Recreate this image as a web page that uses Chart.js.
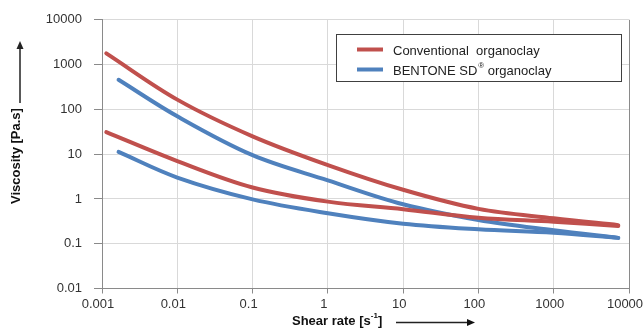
<!DOCTYPE html>
<html>
<head>
<meta charset="utf-8">
<script src="https://cdn.jsdelivr.net/npm/chart.js@4.4.0/dist/chart.umd.min.js"></script>
<style>
  html, body { margin: 0; padding: 0; background: #fff; }
  #wrap { width: 643px; height: 332px; position: relative; }
</style>
</head>
<body>
<div id="wrap"><canvas id="myChart"></canvas></div>
<script>
'use strict';

// shear rate values (s-1)
var shearConv = [0.00114, 0.01, 0.1, 1, 10, 100, 1000, 7200];
var shearBent = [0.00166, 0.01, 0.1, 1, 10, 100, 1000, 7200];

// viscosity (Pa.s)
var convHigh = [1780, 165, 25, 5.7, 1.6, 0.6, 0.37, 0.26];
var convLow = [31, 7.0, 1.8, 0.87, 0.59, 0.38, 0.31, 0.25];
var bentHigh = [458, 70, 9.5, 2.6, 0.76, 0.34, 0.2, 0.135];
var bentLow = [11.2, 3.0, 0.98, 0.48, 0.28, 0.21, 0.175, 0.135];

var xTicks = [0.001, 0.01, 0.1, 1, 10, 100, 1000, 10000];
var yTicks = [0.01, 0.1, 1, 10, 100, 1000, 10000];

var legendLabels = ['Conventional  organoclay', 'BENTONE SD', '\u00ae', ' organoclay'];

var RED = '#C0504D';
var BLUE = '#4F81BD';
var FONT = '"Liberation Sans", Arial, sans-serif';

function toPoints(xs, ys) {
  return xs.map(function(x, i) {
    return { x: x, y: ys[i] };
  });
}

function line(label, xs, ys, color) {
  return {
    label: label,
    data: toPoints(xs, ys),
    borderColor: color,
    backgroundColor: color,
    borderWidth: 4,
    borderCapStyle: 'round',
    pointRadius: 0,
    tension: 0.35,
    fill: false
  };
}

//legend box and axis titles with arrows
var extras = {
  id: 'extras',
  afterDraw: function(chart) {
    var ctx = chart.ctx;
    ctx.save();

    // legend
    ctx.fillStyle = '#fff';
    ctx.fillRect(336, 34, 286, 47);
    ctx.strokeStyle = '#404040';
    ctx.lineWidth = 1;
    ctx.strokeRect(336.5, 34.5, 285, 47);

    ctx.lineWidth = 4;
    ctx.strokeStyle = RED;
    ctx.beginPath(); ctx.moveTo(357, 49.5); ctx.lineTo(383, 49.5); ctx.stroke();
    ctx.strokeStyle = BLUE;
    ctx.beginPath(); ctx.moveTo(357, 69.5); ctx.lineTo(383, 69.5); ctx.stroke();

    ctx.fillStyle = '#222';
    ctx.textBaseline = 'middle';
    ctx.textAlign = 'left';
    ctx.font = '13px ' + FONT;
    ctx.fillText(legendLabels[0], 393, 51);
    var x = 393;
    ctx.fillText(legendLabels[1], x, 71);
    x += ctx.measureText(legendLabels[1]).width + 1;
    ctx.font = '8px ' + FONT;
    ctx.fillText(legendLabels[2], x, 66);
    x += ctx.measureText(legendLabels[2]).width;
    ctx.font = '13px ' + FONT;
    ctx.fillText(legendLabels[3], x, 71);

    // y title
    ctx.fillStyle = '#111';
    ctx.font = 'bold 13px ' + FONT;
    ctx.save();
    ctx.translate(16, 156);
    ctx.rotate(-Math.PI / 2);
    ctx.textAlign = 'center';
    ctx.fillText('Viscosity [Pa.s]', 0, 0);
    ctx.restore();

    ctx.strokeStyle = '#222';
    ctx.fillStyle = '#222';
    ctx.lineWidth = 1.5;
    ctx.beginPath(); ctx.moveTo(20, 103); ctx.lineTo(20, 47); ctx.stroke();
    ctx.beginPath(); ctx.moveTo(20, 41); ctx.lineTo(16.5, 49); ctx.lineTo(23.5, 49); ctx.closePath(); ctx.fill();

    // x title
    ctx.fillStyle = '#111';
    ctx.font = 'bold 13px ' + FONT;
    ctx.textAlign = 'left';
    var tx = 292;
    ctx.fillText('Shear rate [s', tx, 321);
    tx += ctx.measureText('Shear rate [s').width;
    ctx.font = 'bold 8px ' + FONT;
    ctx.fillText('-1', tx, 316);
    tx += ctx.measureText('-1').width;
    ctx.font = 'bold 13px ' + FONT;
    ctx.fillText(']', tx, 321);

    ctx.beginPath(); ctx.moveTo(396, 322.5); ctx.lineTo(468, 322.5); ctx.stroke();
    ctx.beginPath(); ctx.moveTo(475, 322.5); ctx.lineTo(467, 319); ctx.lineTo(467, 326); ctx.closePath(); ctx.fill();

    ctx.restore();
  }
};

var ctx = document.getElementById('myChart').getContext('2d');

var chart = new Chart(ctx, {
  type: 'line',
  data: {
    datasets: [
      line('Conventional organoclay', shearConv, convHigh, RED),
      line('Conventional organoclay (2)', shearConv, convLow, RED),
      line('BENTONE SD organoclay', shearBent, bentHigh, BLUE),
      line('BENTONE SD organoclay (2)', shearBent, bentLow, BLUE)
    ]
  },
  options: {
    responsive: true,
    maintainAspectRatio: false,
    animation: false,
    layout: { padding: { top: 19, right: 14, left: 0, bottom: 0 } },
    plugins: {
      legend: { display: false },
      tooltip: { enabled: false }
    },
    scales: {
      x: {
        type: 'logarithmic',
        min: 0.001,
        max: 10000,
        afterBuildTicks: function(scale) {
          scale.ticks = xTicks.map(function(v) { return { value: v }; });
        },
        afterFit: function(scale) {
          scale.height = 43.5;
          scale.paddingLeft = 0;
          scale.paddingRight = 0;
        },
        ticks: {
          autoSkip: false,
          maxRotation: 0,
          padding: 3,
          labelOffset: -4,
          color: '#333',
          font: { family: FONT, size: 13 },
          callback: function(value) { return String(value); }
        },
        grid: {
          color: function(c) { return c.tick && c.tick.value === 10000 ? '#8a8a8a' : '#d9d9d9'; },
          tickColor: '#8a8a8a',
          tickLength: 5
        },
        border: { color: '#8a8a8a', width: 1 }
      },
      y: {
        type: 'logarithmic',
        min: 0.01,
        max: 10000,
        afterBuildTicks: function(scale) {
          scale.ticks = yTicks.map(function(v) { return { value: v }; });
        },
        afterFit: function(scale) {
          scale.width = 102;
        },
        ticks: {
          autoSkip: false,
          padding: 12,
          color: '#333',
          font: { family: FONT, size: 13 },
          callback: function(value) { return String(value); }
        },
        grid: {
          color: '#d9d9d9',
          tickColor: '#8a8a8a',
          tickLength: 8
        },
        border: { color: '#8a8a8a', width: 1 }
      }
    }
  },
  plugins: [extras]
});
</script>
</body>
</html>
